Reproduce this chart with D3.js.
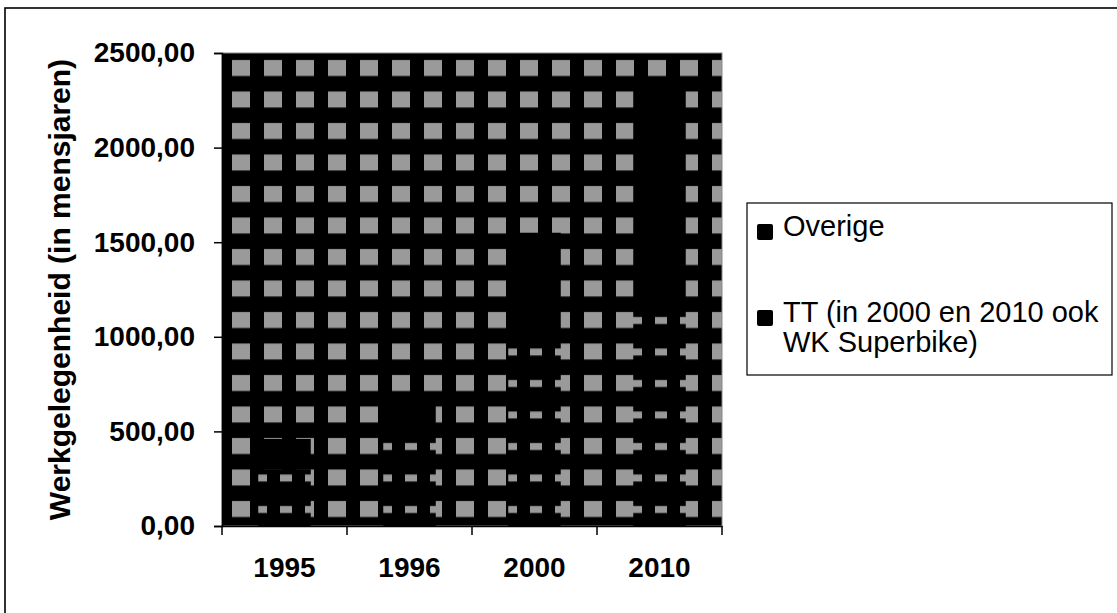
<!DOCTYPE html>
<html>
<head>
<meta charset="utf-8">
<script src="https://cdn.jsdelivr.net/npm/d3@7/dist/d3.min.js"></script>
<style>
  html, body { margin: 0; padding: 0; background: #fff; }
  svg { display: block; }
  text { font-family: "Liberation Sans", Arial, sans-serif; fill: #000; }
</style>
</head>
<body>
<svg id="chart" width="1117" height="613"></svg>
<script>
// ---- data ----
const categories = ["1995", "1996", "2000", "2010"];
const ttValues = [300, 500, 1020, 1195];
const overigeValues = [160, 150, 530, 1175];
const yTickValues = [0, 500, 1000, 1500, 2000, 2500];
const seriesNames = ["Overige", "TT (in 2000 en 2010 ook WK Superbike)"];
const yTitle = "Werkgelegenheid (in mensjaren)";

// ---- layout ----
const plot = { left: 222, right: 722, top: 53, bottom: 526 };

const svg = d3.select("#chart");
const defs = svg.append("defs");

// background halftone pattern (plot area)
const bg = defs.append("pattern").attr("id", "bgPat")
  .attr("patternUnits", "userSpaceOnUse")
  .attr("x", plot.left).attr("y", plot.top)
  .attr("width", 32).attr("height", 31.5);
bg.append("rect").attr("width", 32).attr("height", 31.5).attr("fill", "#000");
bg.append("rect").attr("x", 10).attr("y", 7).attr("width", 18).attr("height", 16).attr("fill", "#9a9a9a");

// TT pattern: sparse small blobs on black
const tt = defs.append("pattern").attr("id", "ttPat")
  .attr("patternUnits", "userSpaceOnUse")
  .attr("x", plot.left).attr("y", plot.top)
  .attr("width", 25).attr("height", 31.5);
tt.append("rect").attr("width", 25).attr("height", 31.5).attr("fill", "#000");
tt.append("rect").attr("x", 8).attr("y", 12).attr("width", 12).attr("height", 7).attr("fill", "#9a9a9a");

// outer frame
svg.append("rect").attr("x", 5).attr("y", 8).attr("width", 1300).attr("height", 800)
  .attr("fill", "#fff").attr("stroke", "#000").attr("stroke-width", 1.6);

// scales
const x = d3.scaleBand().domain(categories).range([plot.left, plot.right]).padding(0);
const y = d3.scaleLinear().domain([0, 2500]).range([plot.bottom, plot.top]);

// plot area
svg.append("rect")
  .attr("x", plot.left).attr("y", plot.top)
  .attr("width", plot.right - plot.left).attr("height", plot.bottom - plot.top)
  .attr("fill", "url(#bgPat)").attr("stroke", "#888").attr("stroke-width", 1);

// stacked data
const rows = categories.map((c, i) => ({ cat: c, tt: ttValues[i], overige: overigeValues[i] }));
const stack = d3.stack().keys(["tt", "overige"]);
const layers = stack(rows);
const fills = { tt: "url(#ttPat)", overige: "#000" };

const barFrac = 0.42;
svg.append("g").selectAll("g").data(layers).join("g")
  .attr("fill", d => fills[d.key])
  .selectAll("rect").data(d => d).join("rect")
  .attr("x", d => x(d.data.cat) + x.bandwidth() * (1 - barFrac) / 2)
  .attr("width", x.bandwidth() * barFrac)
  .attr("y", d => y(d[1]))
  .attr("height", d => y(d[0]) - y(d[1]));

// y axis
const fmt = d => d3.format(".2f")(d).replace(".", ",");
const yAxis = svg.append("g").attr("transform", `translate(${plot.left},0)`)
  .call(d3.axisLeft(y).tickValues(yTickValues).tickFormat(fmt).tickSize(8).tickPadding(19));
yAxis.selectAll("text").style("font-size", "28px").style("font-weight", "bold");
yAxis.selectAll("line, path").attr("stroke", "#000").attr("stroke-width", 1.5);

// x axis (labels centred in bands, ticks at band edges)
const xAxis = svg.append("g").attr("transform", `translate(0,${plot.bottom})`)
  .call(d3.axisBottom(x).tickSize(0).tickPadding(31));
xAxis.selectAll("text").style("font-size", "28px").style("font-weight", "bold");
xAxis.select("path").attr("stroke", "#000").attr("stroke-width", 1.5);
const edges = categories.map(c => x(c)).concat([x(categories[categories.length - 1]) + x.bandwidth()]);
svg.append("g").selectAll("line").data(edges).join("line")
  .attr("x1", d => d).attr("x2", d => d)
  .attr("y1", plot.bottom).attr("y2", plot.bottom + 9)
  .attr("stroke", "#000").attr("stroke-width", 1.5);

// y title
svg.append("text")
  .attr("transform", `translate(70,${(plot.top + plot.bottom) / 2}) rotate(-90)`)
  .attr("text-anchor", "middle")
  .style("font-size", "30px").style("font-weight", "bold")
  .text(yTitle);

// legend
const lg = svg.append("g");
lg.append("rect").attr("x", 747).attr("y", 203).attr("width", 365).attr("height", 172)
  .attr("fill", "#fff").attr("stroke", "#000").attr("stroke-width", 1.2);
const legendItems = [
  { lines: [seriesNames[0]], y: 236 },
  { lines: ["TT (in 2000 en 2010 ook", "WK Superbike)"], y: 322 }
];
legendItems.forEach(it => {
  lg.append("rect").attr("x", 757).attr("y", it.y - 12).attr("width", 16).attr("height", 16)
    .attr("rx", 2).attr("fill", "#000");
  const t = lg.append("text").attr("x", 783).attr("y", it.y).style("font-size", "29px");
  it.lines.forEach((l, i) => t.append("tspan").attr("x", 783).attr("dy", i === 0 ? 0 : 30).text(l));
});
</script>
</body>
</html>
